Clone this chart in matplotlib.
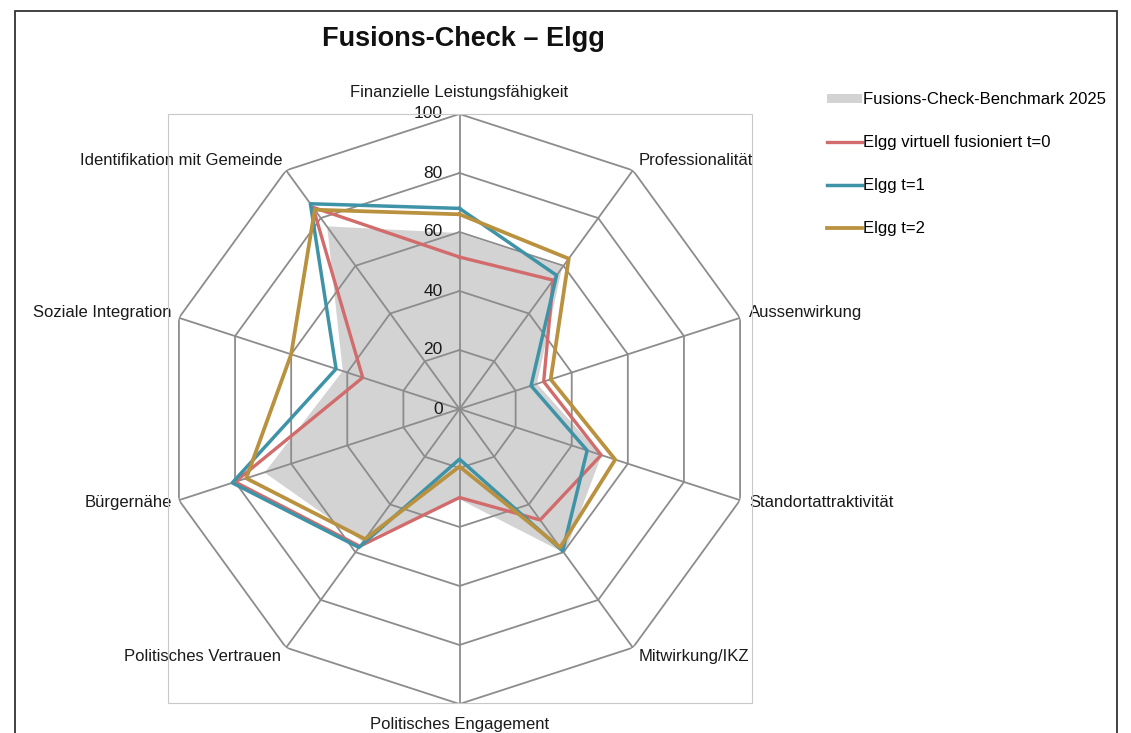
import numpy as np
import matplotlib
matplotlib.use("Agg")
import matplotlib.pyplot as plt
from matplotlib.patches import Rectangle, Patch
from matplotlib.lines import Line2D

plt.rcParams['font.family'] = ['Liberation Sans', 'DejaVu Sans']

# categories clockwise from the top
categories = [
    "Finanzielle Leistungsfähigkeit", "Professionalität", "Aussenwirkung",
    "Standortattraktivität", "Mitwirkung/IKZ", "Politisches Engagement",
    "Politisches Vertrauen", "Bürgernähe", "Soziale Integration",
    "Identifikation mit Gemeinde",
]
benchmark = [60, 60, 28, 51, 61, 31, 56, 70, 42, 77]
elgg_t0 = [51.5, 54, 30, 50.5, 46.5, 30, 57.5, 80, 34.5, 84.5]
elgg_t1 = [68, 56, 25.5, 45.5, 59.5, 17, 58, 81, 44, 86]
elgg_t2 = [66, 63, 32.5, 55.5, 58, 19.5, 54.5, 76, 60, 83.5]
radial_ticks = [0, 20, 40, 60, 80, 100]

series_labels = ["Fusions-Check-Benchmark 2025", "Elgg virtuell fusioniert t=0",
                 "Elgg t=1", "Elgg t=2"]
c_bench = "#d3d3d3"
c_t0 = "#d26b6b"
c_t1 = "#3f93a7"
c_t2 = "#b9913f"
grid_c = "#8c8c8c"

W, H = 1131, 733
fig = plt.figure(figsize=(W / 100, H / 100), dpi=100)

# outer chart frame and plot-area frame
fig.add_artist(Rectangle((14.5 / W, -0.05), (1117 - 14.5) / W, 1.05 - 10.5 / H,
                         transform=fig.transFigure, fill=False,
                         edgecolor="#333333", linewidth=1.3))
fig.add_artist(Rectangle((167.5 / W, 1 - 703 / H), (752 - 167.5) / W, (703 - 113.5) / H,
                         transform=fig.transFigure, fill=False,
                         edgecolor="#c8c8c8", linewidth=0.8))

cx, cy, R = 459.5, 409, 295
ax = fig.add_axes([(cx - R) / W, (H - cy - R) / H, 2 * R / W, 2 * R / H],
                  projection='polar')
ax.set_theta_zero_location('N')
ax.set_theta_direction(-1)
ax.set_ylim(0, 100)
ax.grid(False)
ax.spines['polar'].set_visible(False)
ax.set_xticks([])
ax.set_yticks([])
ax.patch.set_alpha(0)

n = len(categories)
theta = np.linspace(0, 2 * np.pi, n, endpoint=False)
theta_c = np.append(theta, theta[0])

def closed(v):
    return np.append(v, v[0])

ax.fill(theta_c, closed(benchmark), color=c_bench, edgecolor="white",
        linewidth=1.5, zorder=2)

# polygon grid over the fill
for r in radial_ticks[1:]:
    ax.plot(theta_c, [r] * (n + 1), color=grid_c, linewidth=1.3, zorder=3)
for t in theta:
    ax.plot([t, t], [0, 100], color=grid_c, linewidth=1.3, zorder=3)

ax.plot(theta_c, closed(elgg_t0), color=c_t0, linewidth=2.4, zorder=4)
ax.plot(theta_c, closed(elgg_t1), color=c_t1, linewidth=2.5, zorder=5)
ax.plot(theta_c, closed(elgg_t2), color=c_t2, linewidth=2.7, zorder=6)

for r in radial_ticks:
    ax.annotate(str(r), xy=(0, r), xytext=(-17, 0), textcoords='offset pixels',
                ha='right', va='center', fontsize=12.5, color="#1a1a1a", zorder=7)

# category labels: offset (px) and alignment per axis
label_pos = [
    ((0, 22), 'center'), ((6, 10), 'left'), ((9, 5), 'left'), ((9, -2), 'left'),
    ((6, -9), 'left'), ((0, -20), 'center'), ((-5, -9), 'right'),
    ((-7, -2), 'right'), ((-7, 5), 'right'), ((-4, 10), 'right'),
]
for t, lab, (off, ha) in zip(theta, categories, label_pos):
    ax.annotate(lab, xy=(t, 100), xytext=off, textcoords='offset pixels',
                ha=ha, va='center', fontsize=12, color="#1a1a1a",
                annotation_clip=False)

fig.text(463 / W, 1 - 39 / H, "Fusions-Check – Elgg", ha='center', va='center',
         fontsize=19.5, fontweight='bold', color="#111111")

handles = [
    Patch(facecolor=c_bench, edgecolor='none'),
    Line2D([], [], color=c_t0, linewidth=2.4),
    Line2D([], [], color=c_t1, linewidth=2.5),
    Line2D([], [], color=c_t2, linewidth=2.7),
]
leg = fig.legend(handles, series_labels, loc='upper left',
                 bbox_to_anchor=(814 / W, 1 - 79 / H), frameon=False,
                 fontsize=12, labelspacing=1.68, handlelength=2.05,
                 handletextpad=0.1, handleheight=0.45, borderpad=0.3)

fig.savefig("out.png", dpi=100)
